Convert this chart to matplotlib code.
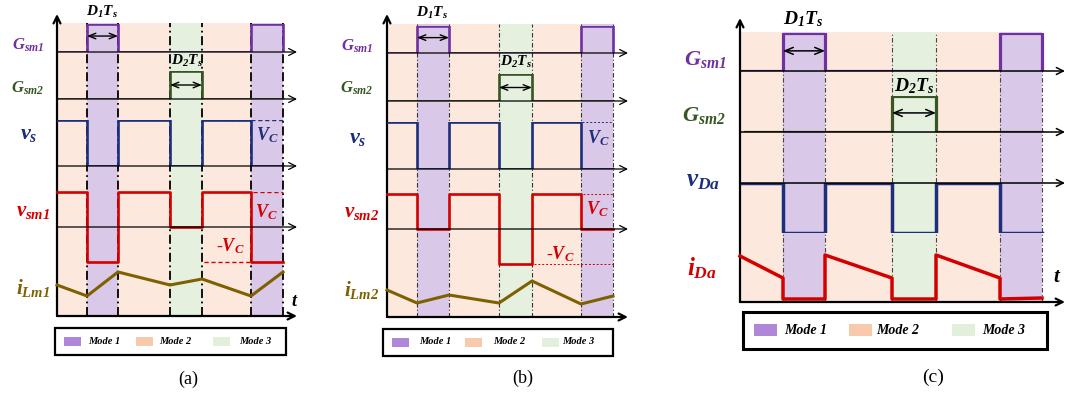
import matplotlib
matplotlib.use('Agg')
import matplotlib.pyplot as plt
from matplotlib.patches import Rectangle

plt.rcParams['font.family'] = 'Liberation Serif'
plt.rcParams['mathtext.fontset'] = 'custom'
plt.rcParams['mathtext.it'] = 'Liberation Serif:italic:bold'
plt.rcParams['mathtext.rm'] = 'Liberation Serif:italic:bold'
plt.rcParams['mathtext.bf'] = 'Liberation Serif:italic:bold'

W, H = 1068, 396

# ---- data: mode of each interval and switching instants ----
modes = [2, 1, 2, 3, 2, 1]
t_a = [0, 3.0, 6.1, 11.3, 14.5, 19.4, 22.6]
t_b = [0, 3.0, 6.2, 11.2, 14.5, 19.4, 22.6]
t_c = [0, 4.3, 8.5, 15.2, 19.6, 26.0, 30.2]

# levels per interval
gsm1 = [0, 1, 0, 0, 0, 1]
gsm2 = [0, 0, 0, 1, 0, 0]
vs = [1, 0, 1, 0, 1, 0]
vsm1 = [1, -1, 1, 0, 1, -1]
vsm2 = [1, 0, 1, -1, 1, 0]
vda = [1, 0, 1, 0, 1, 0]
# magnetizing currents at the switching instants
ilm1 = [3.1, 2.0, 4.4, 3.1, 3.7, 2.0, 4.4]
ilm2 = [2.7, 1.4, 2.2, 1.4, 3.6, 1.3, 2.1]
# diode current at start / end of each interval
ida_start = [4.6, 0.3, 4.7, 0.3, 4.7, 0.3]
ida_end = [2.4, 0.3, 2.4, 0.3, 2.4, 0.4]

mode_names = ['Mode 1', 'Mode 2', 'Mode 3']

fill = {1: '#dac8e8', 2: '#fce8dc', 3: '#e5f0df'}
swatch = {1: '#b086d8', 2: '#f8caac', 3: '#e2efda'}
purple = '#7030a0'
green = '#375623'
navy = '#1c2f7c'
red = '#d40000'
brown = '#7f6000'

fig = plt.figure(figsize=(W / 100, H / 100), dpi=100)


def px_axes(x0, x1, y_bot, y_top, xlim, ylim, z=2):
    ax = fig.add_axes([x0 / W, 1 - y_bot / H, (x1 - x0) / W, (y_bot - y_top) / H])
    ax.set_xlim(*xlim)
    ax.set_ylim(*ylim)
    ax.axis('off')
    ax.patch.set_visible(False)
    ax.set_zorder(z)
    return ax


def steps(t, levels, end=None):
    xs, ys = [], []
    for i, v in enumerate(levels):
        xs += [t[i], t[i + 1]]
        ys += [v, v]
    if end is not None:
        xs.append(t[-1])
        ys.append(end)
    return xs, ys


def arrow(ax, x0, y0, x1, y1, lw=0.9, style='->,head_length=0.5,head_width=0.25'):
    ax.annotate('', xy=(x1, y1), xytext=(x0, y0), annotation_clip=False,
                arrowprops=dict(arrowstyle=style, lw=lw, color='k',
                                shrinkA=0, shrinkB=0))


def background(x0, x1, tmax, t, top, bottom, vtop, vl):
    bg = px_axes(x0, x1, bottom, top, (0, tmax), (0, 1), z=1)
    for i, m in enumerate(modes):
        bg.axvspan(t[i], t[i + 1], color=fill[m], lw=0)
    for tb in t[1:]:
        bg.axvline(tb, **vl)
    arrow(bg, 0, 0, 0, (bottom - vtop) / (bottom - top), lw=1.6)
    arrow(bg, 0, 0, tmax, 0, lw=1.6)
    return bg


def label(x, y, s, fs, color='k', **kw):
    fig.text(x / W, 1 - y / H, s, ha='center', va='center', fontsize=fs,
             color=color, **kw)


def legend(box, sw_x, txt_x, yc, sw_w, sw_h, fs, lw):
    x0, x1, y0, y1 = box
    fig.add_artist(Rectangle((x0 / W, 1 - y1 / H), (x1 - x0) / W, (y1 - y0) / H,
                             transform=fig.transFigure, fill=False, ec='k', lw=lw))
    for k, name in enumerate(mode_names):
        fig.add_artist(Rectangle((sw_x[k] / W, 1 - (yc + sw_h / 2) / H), sw_w / W, sw_h / H,
                                 transform=fig.transFigure, fc=swatch[k + 1], ec='none'))
        fig.text(txt_x[k] / W, 1 - yc / H, name, ha='left', va='center', fontsize=fs,
                 fontstyle='italic', fontweight='bold')


# ================= panel (a) =================
xa0, xa1, ta_max = 57, 297, 24.0
background(xa0, xa1, ta_max, t_a, 23, 316, 14,
           dict(color='k', lw=1.3, ls=(0, (5, 2, 1, 2))))

ax = px_axes(xa0, xa1, 52, 24, (0, ta_max), (0, 1))
arrow(ax, 0, 0, ta_max, 0)
ax.plot(*steps(t_a, gsm1, 0), color=purple, lw=1.9, solid_joinstyle='miter')
arrow(ax, t_a[1], 0.57, t_a[2], 0.57, lw=1.0, style='<->,head_length=0.5,head_width=0.2')

ax = px_axes(xa0, xa1, 99, 71, (0, ta_max), (0, 1))
arrow(ax, 0, 0, ta_max, 0)
ax.plot(*steps(t_a, gsm2), color=green, lw=1.9)
arrow(ax, t_a[3], 0.5, t_a[4], 0.5, lw=1.0, style='<->,head_length=0.5,head_width=0.2')

ax = px_axes(xa0, xa1, 166, 120, (0, ta_max), (0, 1))
arrow(ax, 0, 0, ta_max, 0)
ax.plot(*steps(t_a, vs), color=navy, lw=1.9)
ax.plot([17.3, t_a[-1]], [1, 1], color=navy, lw=1.0, ls=(0, (3, 2)))

ax = px_axes(xa0, xa1, 227, 192, (0, ta_max), (0, 1))
arrow(ax, 0, 0, ta_max, 0)
ax.plot(*steps(t_a, vsm1), color=red, lw=1.9, clip_on=False)
ax.plot([19.6, t_a[-1]], [1, 1], color=red, lw=1.0, ls=(0, (3, 2)))
ax.plot([14.7, t_a[5]], [-1, -1], color=red, lw=1.0, ls=(0, (3, 2)), clip_on=False)

ax = px_axes(xa0, xa1, 316, 306, (0, ta_max), (0, 1))
ax.plot(t_a, ilm1, color=brown, lw=2.2, clip_on=False)

label(28, 45, r'$G_{sm1}$', 12, purple)
label(28, 88, r'$G_{sm2}$', 12, green)
label(29, 135, r'$v_{s}$', 16, navy)
label(33, 211, r'$v_{sm1}$', 15, red)
label(33, 288, r'$i_{Lm1}$', 15, brown)
label(102, 12, r'$D_{1}T_{s}$', 11)
label(187, 61, r'$D_{2}T_{s}$', 11)
label(267, 135, r'$V_{C}$', 13, navy)
label(266, 212, r'$V_{C}$', 13, red)
label(230, 246, r'-$V_{C}$', 13, red)
label(295, 302, r'$t$', 13)
legend((55, 286, 328, 355), [64, 136, 213], [88, 159, 239], 341, 17, 9, 7.5, 1.6)
label(188, 379, '(a)', 13, fontfamily='Liberation Serif')

# ================= panel (b) =================
xb0, xb1, tb_max = 387, 628, 24.1
background(xb0, xb1, tb_max, t_b, 24, 317, 14,
           dict(color='#333333', lw=0.8, ls=(0, (4, 2, 1, 2))))

ax = px_axes(xb0, xb1, 53, 26, (0, tb_max), (0, 1))
arrow(ax, 0, 0, tb_max, 0)
ax.plot(*steps(t_b, gsm1, 0), color=purple, lw=1.9)
arrow(ax, t_b[1], 0.57, t_b[2], 0.57, lw=1.0, style='<->,head_length=0.5,head_width=0.2')

ax = px_axes(xb0, xb1, 101, 74, (0, tb_max), (0, 1))
arrow(ax, 0, 0, tb_max, 0)
ax.plot(*steps(t_b, gsm2), color=green, lw=1.9)
arrow(ax, t_b[3], 0.5, t_b[4], 0.5, lw=1.0, style='<->,head_length=0.5,head_width=0.2')

ax = px_axes(xb0, xb1, 169, 122, (0, tb_max), (0, 1))
arrow(ax, 0, 0, tb_max, 0)
ax.plot(*steps(t_b, vs), color=navy, lw=1.9)
ax.plot([19.5, t_b[-1]], [1, 1], color=navy, lw=0.7, ls=(0, (2, 2)))

ax = px_axes(xb0, xb1, 229, 194, (0, tb_max), (0, 1))
arrow(ax, 0, 0, tb_max, 0)
ax.plot(*steps(t_b, vsm2), color=red, lw=1.9, clip_on=False)
ax.plot([19.6, t_b[-1]], [1, 1], color=red, lw=0.7, ls=(0, (2, 2)))
ax.plot([14.7, t_b[-1]], [-1, -1], color=red, lw=0.7, ls=(0, (2, 2)), clip_on=False)

ax = px_axes(xb0, xb1, 317, 307, (0, tb_max), (0, 1))
ax.plot(t_b, ilm2, color=brown, lw=2.2, clip_on=False)

label(357, 46, r'$G_{sm1}$', 12, purple)
label(357, 88, r'$G_{sm2}$', 12, green)
label(358, 138, r'$v_{s}$', 16, navy)
label(362, 212, r'$v_{sm2}$', 15, red)
label(362, 290, r'$i_{Lm2}$', 15, brown)
label(432, 13, r'$D_{1}T_{s}$', 11)
label(516, 62, r'$D_{2}T_{s}$', 11)
label(598, 138, r'$V_{C}$', 13, navy)
label(597, 209, r'$V_{C}$', 13, red)
label(560, 254, r'-$V_{C}$', 13, red)
legend((383, 613, 329, 356), [392, 465, 542], [419, 493, 562], 342, 17, 9, 7.5, 1.6)
label(523, 378, '(b)', 13, fontfamily='Liberation Serif')

# ================= panel (c) =================
xc0, xc1, tc_max = 740, 1065, 32.5
background(xc0, xc1, tc_max, t_c, 32, 302, 18,
           dict(color='#444444', lw=0.8, ls=(0, (4, 2, 1, 2))))

ax = px_axes(xc0, xc1, 71, 33, (0, tc_max), (0, 1))
arrow(ax, 0, 0, tc_max, 0, lw=1.1)
ax.plot(*steps(t_c, gsm1, 0), color=purple, lw=2.3)
arrow(ax, t_c[1], 0.53, t_c[2], 0.53, lw=1.1, style='<->,head_length=0.6,head_width=0.25')

ax = px_axes(xc0, xc1, 132, 96, (0, tc_max), (0, 1))
arrow(ax, 0, 0, tc_max, 0, lw=1.1)
ax.plot(*steps([0.5] + t_c[1:], gsm2), color=green, lw=2.3)
arrow(ax, t_c[3], 0.53, t_c[4], 0.53, lw=1.1, style='<->,head_length=0.6,head_width=0.25')

ax = px_axes(xc0, xc1, 233, 183, (0, tc_max), (0, 1))
arrow(ax, 0, 1, tc_max, 1, lw=1.1)
ax.plot(*steps([0.2] + t_c[1:], vda), color=navy, lw=2.5)

ax = px_axes(xc0, xc1, 302, 292, (0, tc_max), (0, 1))
xs, ys = [], []
for i in range(len(modes)):
    xs += [t_c[i], t_c[i + 1]]
    ys += [ida_start[i], ida_end[i]]
ax.plot(xs, ys, color=red, lw=2.5, clip_on=False)

label(705, 60, r'$G_{sm1}$', 16, purple)
label(704, 115, r'$G_{sm2}$', 16, green)
label(703, 181, r'$v_{Da}$', 18, navy)
label(702, 268, r'$i_{Da}$', 18, red)
label(803, 19, r'$D_{1}T_{s}$', 14)
label(914, 86, r'$D_{2}T_{s}$', 14)
label(1057, 277, r'$t$', 15)
legend((743, 1047, 312, 349), [754, 849, 952], [784, 876, 982], 330, 23, 12, 10, 2.2)
label(933, 377, '(c)', 14, fontfamily='Liberation Serif')

fig.savefig('out.png', dpi=100)
